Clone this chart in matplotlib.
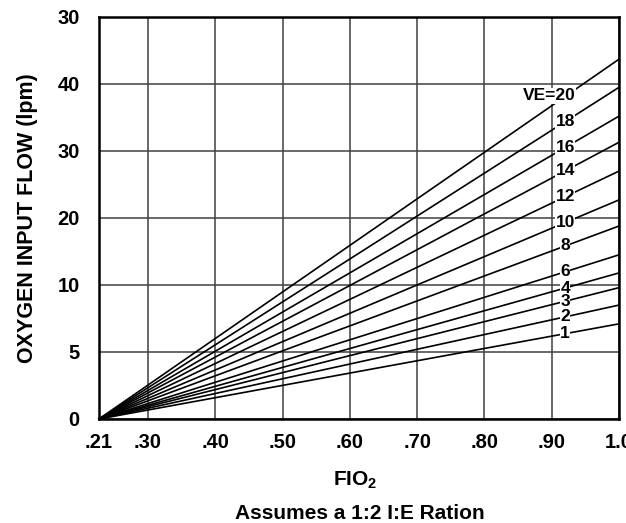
import matplotlib
matplotlib.use("Agg")
import matplotlib.pyplot as plt

# chart values (y in grid rows, x in FIO2)
x_ticks = [0.227, 0.30, 0.40, 0.50, 0.60, 0.70, 0.80, 0.90, 1.00]
x_labels = [".21", ".30", ".40", ".50", ".60", ".70", ".80", ".90", "1.0"]
y_ticks = [0, 1, 2, 3, 4, 5, 6]
y_labels = ["0", "5", "10", "20", "30", "40", "30"]

ve_labels = ["VE=20", "18", "16", "14", "12", "10", "8", "6", "4", "3", "2", "1"]
flow_start = [0] * 12
flow_end = [5.37, 4.95, 4.52, 4.13, 3.70, 3.27, 2.88, 2.45, 2.18, 1.96, 1.70, 1.42]

plt.rcParams['font.family'] = ['Liberation Sans', 'DejaVu Sans']
plt.rcParams['font.weight'] = 'bold'
plt.rcParams['mathtext.fontset'] = 'custom'
plt.rcParams['mathtext.rm'] = 'Liberation Sans:bold'
plt.rcParams['mathtext.default'] = 'rm'

fig = plt.figure(figsize=(6.26, 5.23), dpi=100)
ax = fig.add_axes([0.1581, 0.1989, 0.8307, 0.7686])

x0, x1 = x_ticks[0], x_ticks[-1]
for lab, y0, y1 in zip(ve_labels, flow_start, flow_end):
    ax.plot([x0, x1], [y0, y1], color='black', lw=1.2, zorder=3, clip_on=False)
    if lab.startswith("VE"):
        lx = 0.897
        ly = y0 + (y1 - y0) * (lx - x0) / (x1 - x0) + 0.17
    else:
        lx = 0.92
        ly = y0 + (y1 - y0) * (lx - x0) / (x1 - x0)
    ax.text(lx, ly, lab, ha='center', va='center', fontsize=12.5, fontweight='bold',
            zorder=4, bbox=dict(facecolor='white', edgecolor='none', pad=0.3))

ax.set_xlim(x0, x1)
ax.set_ylim(0, 6)
ax.set_xticks(x_ticks)
ax.set_xticklabels(x_labels)
ax.set_yticks(y_ticks)
ax.set_yticklabels(y_labels)
ax.tick_params(length=0, labelsize=14.5, pad=10)
ax.tick_params(axis='y', pad=14)
ax.grid(True, color='#404040', lw=1.1, zorder=1)
for s in ax.spines.values():
    s.set_linewidth(1.8)
    s.set_zorder(5)

ax.set_ylabel("OXYGEN INPUT FLOW (lpm)", fontsize=15.5, fontweight='bold', labelpad=14)
fig.text(0.567, 0.082, "FIO$_2$", ha='center', va='center', fontsize=15, fontweight='bold')
fig.text(0.575, 0.019, "Assumes a 1:2 I:E Ration", ha='center', va='center', fontsize=15,
         fontweight='bold')

fig.savefig("out.png", dpi=100)
